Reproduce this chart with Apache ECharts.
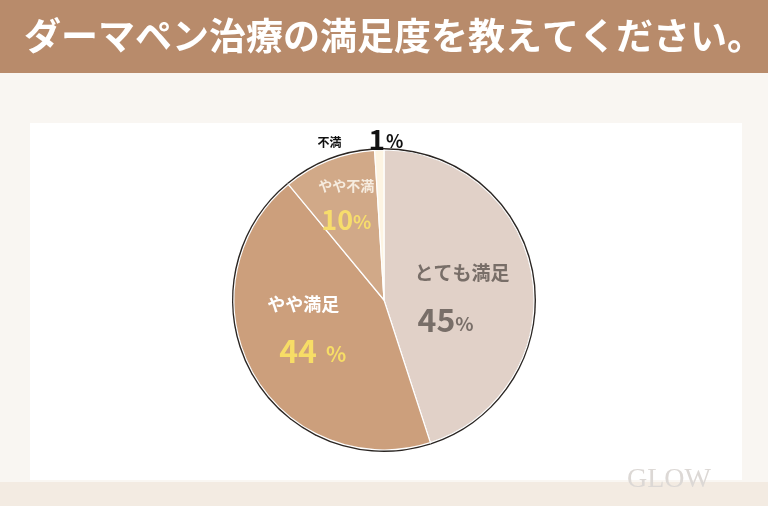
<!DOCTYPE html>
<html><head><meta charset="utf-8">
<script src="https://cdn.jsdelivr.net/npm/echarts@6/dist/echarts.min.js"></script>
<style>html,body{margin:0;padding:0;background:#f9f6f2;}#c{width:768px;height:506px;}</style>
</head><body><div id="c"></div>
<script>
const titleText = "ダーマペン治療の満足度を教えてください。";
const categories = ["とても満足", "やや満足", "やや不満", "不満"];
const values = [45, 44, 10, 1];
const sliceColors = ["#e1d1c8", "#cc9f7c", "#d1a988", "#fdf4e2"];

const font = '"Noto Sans CJK JP", "Noto Sans", sans-serif';
const labelRich = [
  {name:{fontSize:19,fontWeight:'bold',color:'#786e68',lineHeight:62,fontFamily:font,align:'left'},
   num:{fontSize:32,fontWeight:'bold',color:'#786e68',fontFamily:font,align:'left',padding:[0,0,0,3]},
   pct:{fontSize:19,fontWeight:'bold',color:'#786e68',fontFamily:font,padding:[8,0,0,0],align:'left'}},
  {name:{fontSize:18,fontWeight:'bold',color:'#ffffff',lineHeight:60,fontFamily:font,align:'left'},
   num:{fontSize:32,fontWeight:'bold',color:'#f7dd66',fontFamily:font,align:'left',padding:[0,0,0,12]},
   pct:{fontSize:21,fontWeight:'bold',color:'#f7dd66',fontFamily:font,padding:[6,0,0,9],align:'left'}},
  {name:{fontSize:14,fontWeight:'bold',color:'#f6ecdf',lineHeight:40,fontFamily:font},
   num:{fontSize:27,fontWeight:'bold',color:'#f7dd6c',fontFamily:font},
   pct:{fontSize:19,fontWeight:'bold',color:'#f7dd6c',fontFamily:font,padding:[4,0,0,0]}},
  {name:{fontSize:12,fontWeight:'bold',color:'#111111',fontFamily:font,padding:[6,27,0,0]},
   num:{fontSize:28,fontWeight:'bold',color:'#111111',fontFamily:font},
   pct:{fontSize:18,fontWeight:'bold',color:'#111111',fontFamily:font,padding:[5,0,0,1]}}
];
const labelOffsets = [[1,1],[-9,-17],[-9,-28],[29,-11]];

const chart = echarts.init(document.getElementById('c'), null, {renderer:'canvas'});
const data = categories.map((n,i)=>({
  name:n, value:values[i],
  itemStyle:{color:sliceColors[i]},
  label:{
    position: i===3 ? 'outside' : 'inside',
    formatter: i===3 ? '{name|{b}}{num|{c}}{pct|%}' : '{name|{b}}\n{num|{c}}{pct|%}',
    rich: labelRich[i]
  },
  labelLine:{show:false}
}));

chart.setOption({
  backgroundColor:'#f9f6f2',
  animation:false,
  graphic:[
    {type:'rect', shape:{x:0,y:0,width:768,height:73}, style:{fill:'#b88b6b'}, z:0},
    {type:'rect', shape:{x:30,y:123,width:712,height:357}, style:{fill:'#ffffff'}, z:0},
    {type:'rect', shape:{x:0,y:482,width:768,height:24}, style:{fill:'#f3ebe2'}, z:0},
    {type:'text', left:24, top:17, style:{text:titleText, fill:'#ffffff', font:'bold 37px '+font}, z:5},
    {type:'text', left:627, top:466, style:{text:'GLOW', fill:'#dcd8d5', font:'28px "Liberation Serif", serif'}, z:5}
  ],
  series:[
    {type:'pie', center:[384,300], radius:[0,152], startAngle:90, clockwise:true, silent:true,
     data:values.map(v=>({value:v})), itemStyle:{color:'#2a2522', borderWidth:0}, label:{show:false}, labelLine:{show:false}, z:1},
    {type:'pie', center:[384,300], radius:[0,150], startAngle:90, clockwise:true,
     itemStyle:{borderColor:'#ffffff', borderWidth:1.2},
     label:{show:true}, labelLine:{show:false, length:0, length2:0},
     labelLayout:function(p){const o=labelOffsets[p.dataIndex];return {dx:o[0],dy:o[1]};},
     data:data, z:2}
  ]
});
</script></body></html>
